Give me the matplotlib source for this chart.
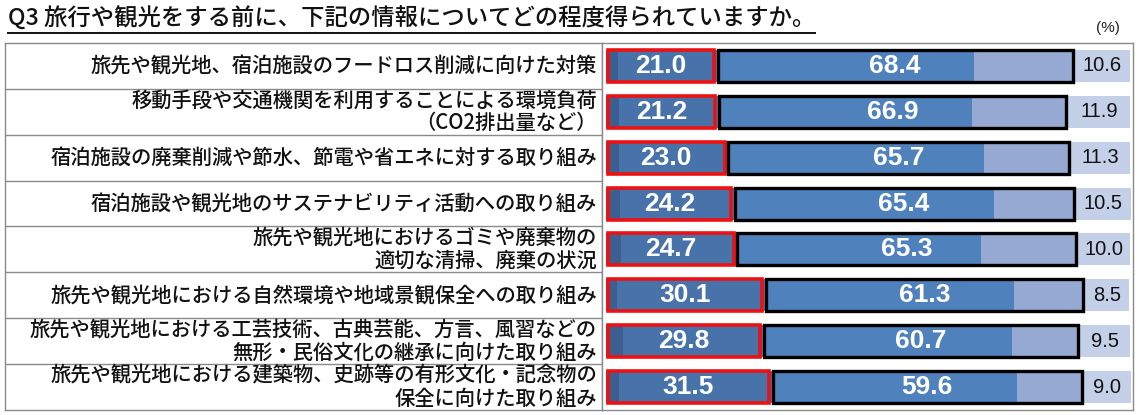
import matplotlib
matplotlib.use("Agg")
import matplotlib.pyplot as plt
import matplotlib.patches as mpatches
from matplotlib.lines import Line2D
import numpy as np

plt.rcParams['font.family'] = ['Noto Sans CJK JP', 'DejaVu Sans']

# ------------------------------------------------------------------
# Data (%)
# ------------------------------------------------------------------
title = "Q3 旅行や観光をする前に、下記の情報についてどの程度得られていますか。"
categories = [
    "旅先や観光地、宿泊施設のフードロス削減に向けた対策",
    "移動手段や交通機関を利用することによる環境負荷\n（CO2排出量など）",
    "宿泊施設の廃棄削減や節水、節電や省エネに対する取り組み",
    "宿泊施設や観光地のサステナビリティ活動への取り組み",
    "旅先や観光地におけるゴミや廃棄物の\n適切な清掃、廃棄の状況",
    "旅先や観光地における自然環境や地域景観保全への取り組み",
    "旅先や観光地における工芸技術、古典芸能、方言、風習などの\n無形・民俗文化の継承に向けた取り組み",
    "旅先や観光地における建築物、史跡等の有形文化・記念物の\n保全に向けた取り組み",
]
got_fully = [2.3, 2.5, 2.5, 2.7, 2.9, 2.1, 3.2, 2.5]          # dark strip
got_total = [21.0, 21.2, 23.0, 24.2, 24.7, 30.1, 29.8, 31.5]  # red box
not_much = [49.2, 48.6, 49.1, 49.9, 46.9, 47.7, 47.7, 46.9]   # medium blue in black box
not_total = [68.4, 66.9, 65.7, 65.4, 65.3, 61.3, 60.7, 59.6]  # black box
unknown = [10.6, 11.9, 11.3, 10.5, 10.0, 8.5, 9.5, 9.0]

C_DARK = "#3c5f90"
C_GOT = "#4872aa"
C_MID = "#4f81bd"
C_LIGHT = "#95a9d2"
C_PALE = "#c4d0e7"
C_FRAME = "#8a8a8a"

W, H = 1143, 415
fig = plt.figure(figsize=(W / 100, H / 100), dpi=100)

top_px, bot_px = 43, 410
left_px, mid_px, right_px = 5, 602, 1133
y0 = 1 - bot_px / H
hh = (bot_px - top_px) / H

# ------------------------------------------------------------------
# Label table
# ------------------------------------------------------------------
axl = fig.add_axes([left_px / W, y0, (mid_px - left_px) / W, hh])
n = len(categories)
axl.set_xlim(0, 1)
axl.set_ylim(n - 0.5, -0.5)
axl.set_xticks([])
axl.set_yticks([])
for s in axl.spines.values():
    s.set_color(C_FRAME)
    s.set_linewidth(1.0)
for i in range(n - 1):
    axl.axhline(i + 0.5, color=C_FRAME, lw=1.0)
for i, lab in enumerate(categories):
    axl.text(0.9915, i, lab, ha="right", va="center", fontsize=14.6,
             fontweight="medium", linespacing=1.06, color="#111111")

# ------------------------------------------------------------------
# Bars
# ------------------------------------------------------------------
ax = fig.add_axes([mid_px / W, y0, (right_px - mid_px) / W, hh])
px_per = 5.24
ax.set_xlim(-4 / px_per, 100 + 3 / px_per)
ax.set_ylim(n - 0.5, -0.5)
ax.set_xticks([])
ax.set_yticks([])
for s in ax.spines.values():
    s.set_color(C_FRAME)
    s.set_linewidth(1.0)

y = np.arange(n)
got_fully = np.array(got_fully)
got_total = np.array(got_total)
not_much = np.array(not_much)
not_total = np.array(not_total)
unknown = np.array(unknown)
bh = 0.70

ax.barh(y, got_fully, height=bh, color=C_DARK, lw=0)
ax.barh(y, got_total - got_fully, left=got_fully, height=bh, color=C_GOT, lw=0)
ax.barh(y, not_much, left=got_total, height=bh, color=C_MID, lw=0)
ax.barh(y, not_total - not_much, left=got_total + not_much, height=bh, color=C_LIGHT, lw=0)
ax.barh(y, unknown, left=got_total + not_total, height=bh, color=C_PALE, lw=0)

inset = 0.35
for i in range(n):
    ax.add_patch(mpatches.Rectangle((inset, i - bh / 2), got_total[i] - 2 * inset, bh,
                                    fill=False, edgecolor="#ee1111", lw=2.6,
                                    joinstyle="miter", zorder=4))
    ax.add_patch(mpatches.Rectangle((got_total[i] + inset, i - bh / 2),
                                    not_total[i] - 2 * inset, bh,
                                    fill=False, edgecolor="#000000", lw=2.4,
                                    joinstyle="miter", zorder=4))
    ax.text(got_total[i] / 2, i, f"{got_total[i]:.1f}", ha="center", va="center",
            color="white", fontsize=19, fontweight="bold",
            family="Liberation Sans", zorder=5)
    ax.text(got_total[i] + not_total[i] / 2, i, f"{not_total[i]:.1f}", ha="center",
            va="center", color="white", fontsize=19, fontweight="bold",
            family="Liberation Sans", zorder=5)
    ax.text(got_total[i] + not_total[i] + unknown[i] / 2, i, f"{unknown[i]:.1f}",
            ha="center", va="center", color="#111111", fontsize=14.5,
            family="Liberation Sans", zorder=5)

# ------------------------------------------------------------------
# Title (underlined) and unit
# ------------------------------------------------------------------
t = fig.text(8 / W, 1 - 19 / H, title, ha="left", va="center", fontsize=16.8,
             fontweight="medium", color="#111111")
fig.text(1108 / W, 1 - 28 / H, "(%)", ha="center", va="center", fontsize=11,
         family="Liberation Sans", color="#222222")

fig.canvas.draw()
bb = t.get_window_extent(renderer=fig.canvas.get_renderer())
bb = bb.transformed(fig.transFigure.inverted())
uy = 1 - 33 / H
fig.add_artist(Line2D([bb.x0, bb.x1], [uy, uy], transform=fig.transFigure,
                      color="#111111", lw=1.4))

fig.savefig("out.png", dpi=100)
